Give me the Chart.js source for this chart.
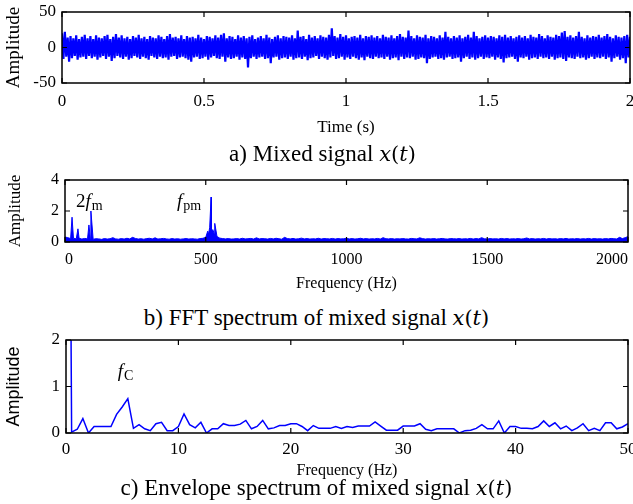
<!DOCTYPE html>
<html>
<head>
<meta charset="utf-8">
<script src="https://cdn.jsdelivr.net/npm/chart.js@4.4.0/dist/chart.umd.min.js"></script>
<style>
  body{margin:0;background:#fff;width:633px;height:504px;position:relative;overflow:hidden;font-family:"Liberation Serif",serif;}
  .box{position:absolute;left:0;width:633px;}
  .cap{position:absolute;left:0;width:633px;text-align:center;font-size:23px;line-height:24px;color:#000;z-index:2;}
  .cap i{font-family:"DejaVu Serif",serif;font-style:italic;font-size:21px;}
  .cap span{font-family:"DejaVu Serif",serif;font-size:21px;}
</style>
</head>
<body>
<div class="box" style="top:0;height:140px"><canvas id="chartA"></canvas></div>
<div class="cap" style="top:142px;padding-left:6px">a) Mixed signal <i>x</i><span>(</span><i>t</i><span>)</span></div>
<div class="box" style="top:165px;height:130px"><canvas id="chartB"></canvas></div>
<div class="cap" style="top:306px">b) FFT spectrum of mixed signal <i>x</i><span>(</span><i>t</i><span>)</span></div>
<div class="box" style="top:330px;height:150px"><canvas id="chartC"></canvas></div>
<div class="cap" style="top:476px">c) Envelope spectrum of mixed signal <i>x</i><span>(</span><i>t</i><span>)</span></div>
<script>
// a) mixed signal, upper / lower envelope every 0.01 s
const timeTicks = [0, 0.5, 1, 1.5, 2]
const ampTicksA = [-50, 0, 50]
const sigTop = [
  20,22,14,16,13,17,12,15,18,13, 16,12,17,14,13,16,18,12,15,19,
  14,17,13,15,12,16,14,18,13,15, 12,16,14,13,17,15,12,16,19,14,
  15,13,17,12,16,14,15,13,18,14, 12,16,15,13,17,14,18,20,13,16,
  15,12,17,14,16,13,15,17,12,14, 16,13,18,14,12,15,17,13,16,15,
  14,17,13,24,15,16,12,18,14,16, 13,17,15,14,18,27,16,14,19,15,
  17,13,15,16,14,18,13,16,15,17, 14,16,13,18,15,14,17,13,16,19,
  15,14,24,16,13,17,15,14,18,13, 16,15,13,17,14,22,15,13,16,14,
  17,13,15,18,14,22,16,13,15,17, 14,16,15,13,17,15,18,14,16,13,
  15,17,14,16,13,18,15,14,19,16, 13,17,15,14,18,16,21,23,15,17,
  14,16,22,15,13,17,14,16,15,18, 14,16,19,15,13,17,15,14,16,18,
  15
]
const sigBottom = [
  -16,-13,-20,-15,-12,-17,-14,-13,-16,-12, -15,-13,-17,-14,-12,-16,-13,-19,-15,-12,
  -14,-16,-13,-17,-15,-12,-14,-16,-13,-15, -17,-12,-14,-16,-13,-15,-14,-17,-13,-12,
  -16,-14,-13,-15,-17,-20,-14,-13,-16,-15, -13,-17,-14,-12,-15,-16,-13,-20,-14,-16,
  -15,-13,-17,-14,-16,-28,-15,-13,-16,-14, -13,-16,-15,-22,-14,-13,-17,-15,-14,-16,
  -13,-17,-15,-14,-16,-13,-18,-15,-14,-12, -16,-13,-15,-17,-14,-12,-16,-15,-13,-17,
  -14,-16,-13,-15,-17,-14,-18,-13,-15,-16, -13,-15,-14,-16,-13,-17,-15,-14,-18,-13,
  -16,-14,-15,-13,-17,-16,-14,-15,-22,-16, -14,-13,-16,-15,-17,-14,-13,-16,-15,-14,
  -20,-15,-13,-16,-14,-17,-15,-13,-16,-14, -15,-13,-17,-14,-16,-21,-15,-14,-13,-16,
  -20,-14,-15,-13,-17,-15,-14,-16,-13,-15, -14,-16,-13,-17,-15,-14,-16,-19,-14,-15,
  -16,-13,-15,-14,-17,-15,-13,-16,-14,-15, -13,-16,-14,-20,-15,-13,-17,-15,-22,-14,
  -16
]

// b) FFT spectrum: noise floor every 10 Hz + peaks
const fftTicks = [0, 500, 1000, 1500, 2000]
const fftAmpTicks = [0, 2, 4]
const fftFloor = [
  0.32,0.28,0.22,0.25,0.2,0.24,0.19,0.23,0.2,0.22,0.18,0.21,0.2,0.17,0.22,0.19,0.21,0.28,0.2,0.18,
  0.22,0.19,0.24,0.2,0.3,0.23,0.19,0.21,0.18,0.22,0.24,0.2,0.27,0.19,0.21,0.23,0.2,0.18,0.22,0.19,
  0.21,0.18,0.2,0.22,0.19,0.21,0.2,0.18,0.22,0.24,0.3,0.5,0.6,0.55,0.35,0.25,0.22,0.2,0.22,0.19,
  0.2,0.22,0.19,0.24,0.2,0.21,0.23,0.19,0.27,0.2,0.22,0.21,0.19,0.23,0.2,0.24,0.21,0.18,0.3,0.22,
  0.2,0.23,0.19,0.21,0.25,0.2,0.22,0.19,0.21,0.2,0.24,0.19,0.22,0.21,0.2,0.23,0.19,0.22,0.2,0.21,
  0.23,0.2,0.22,0.19,0.21,0.24,0.2,0.22,0.19,0.21,0.2,0.23,0.19,0.28,0.21,0.2,0.22,0.19,0.21,0.2,
  0.22,0.2,0.19,0.23,0.21,0.2,0.27,0.22,0.19,0.21,0.2,0.22,0.19,0.21,0.23,0.2,0.19,0.22,0.21,0.2,
  0.22,0.19,0.21,0.2,0.23,0.19,0.22,0.2,0.28,0.21,0.19,0.22,0.2,0.21,0.19,0.23,0.2,0.22,0.19,0.21,
  0.2,0.22,0.19,0.21,0.26,0.2,0.22,0.19,0.21,0.2,0.23,0.19,0.22,0.2,0.21,0.19,0.22,0.2,0.23,0.19,
  0.21,0.2,0.22,0.19,0.21,0.2,0.23,0.19,0.22,0.2,0.21,0.19,0.22,0.2,0.23,0.21,0.2,0.3,0.22,0.28,
  0.35
]
const peakFreq = [25, 46, 85, 92, 507, 514, 519, 525, 532]
const peakAmp  = [1.6, 0.85, 1.1, 2.0, 0.7, 0.95, 2.9, 0.8, 1.2]

// c) envelope spectrum, 0.5 Hz bins from 0 to 50 Hz
const envTicks = [0, 10, 20, 30, 40, 50]
const envAmpTicks = [0, 1, 2]
const envAmp = [
  20,0.02,0.08,0.31,0.0,0.14,0.14,0.14,0.14,0.4,
  0.56,0.74,0.1,0.18,0.09,0.05,0.2,0.23,0.05,0.05,
  0.14,0.41,0.18,0.11,0.23,0.0,0.09,0.09,0.2,0.16,
  0.16,0.19,0.27,0.09,0.14,0.27,0.09,0.11,0.16,0.16,
  0.2,0.2,0.14,0.05,0.16,0.1,0.1,0.1,0.14,0.1,
  0.14,0.12,0.15,0.15,0.15,0.24,0.15,0.06,0.06,0.06,
  0.15,0.15,0.15,0.2,0.08,0.05,0.09,0.09,0.09,0.09,
  0.0,0.05,0.06,0.1,0.18,0.09,0.09,0.26,0.0,0.14,
  0.14,0.1,0.1,0.09,0.14,0.26,0.14,0.22,0.09,0.15,
  0.05,0.11,0.2,0.05,0.1,0.05,0.22,0.22,0.09,0.13,
  0.2
]

const BLUE = '#0000ff'
const SERIF = '"Liberation Serif", "Times New Roman", serif'

// MATLAB-like box with ticks pointing inside
const matlabBox = {
  id: 'matlabBox',
  afterDraw(chart) {
    const {ctx, chartArea: a, scales: {x, y}} = chart
    ctx.save()
    ctx.strokeStyle = '#000'
    ctx.lineWidth = 1.5
    ctx.strokeRect(a.left, a.top, a.right - a.left, a.bottom - a.top)
    ctx.lineWidth = 1.2
    const L = 5
    ctx.beginPath()
    x.ticks.forEach(t => {
      const px = x.getPixelForValue(t.value)
      ctx.moveTo(px, a.bottom); ctx.lineTo(px, a.bottom - L)
      ctx.moveTo(px, a.top); ctx.lineTo(px, a.top + L)
    })
    y.ticks.forEach(t => {
      const py = y.getPixelForValue(t.value)
      ctx.moveTo(a.left, py); ctx.lineTo(a.left + L, py)
      ctx.moveTo(a.right, py); ctx.lineTo(a.right - L, py)
    })
    ctx.stroke()
    ctx.restore()
  }
}

// text labels like 2f_m placed in data coordinates
const notes = {
  id: 'notes',
  afterDatasetsDraw(chart, args, opts) {
    const {ctx, scales: {x, y}} = chart
    ctx.save()
    ctx.fillStyle = '#000'
    ctx.textBaseline = 'alphabetic'
    ;(opts.items || []).forEach(n => {
      let px = x.getPixelForValue(n.x)
      const py = y.getPixelForValue(n.y)
      n.parts.forEach(p => {
        ctx.font = p.font
        ctx.fillText(p.t, px, py + (p.dy || 0))
        px += ctx.measureText(p.t).width + (p.gap || 0)
      })
    })
    ctx.restore()
  }
}

let makeChart = (id, datasets, o) => {
  return new Chart(document.getElementById(id), {
    type: 'line',
    data: {datasets},
    options: {
      responsive: true,
      maintainAspectRatio: false,
      animation: false,
      events: [],
      layout: {padding: {top: o.padTop, right: o.padRight, left: 0, bottom: 0}},
      plugins: {legend: {display: false}, tooltip: {enabled: false}, notes: {items: o.notes || []}},
      elements: {point: {radius: 0}, line: {tension: 0}},
      scales: {
        x: {
          type: 'linear', min: o.xTicks[0], max: o.xTicks[o.xTicks.length - 1],
          grid: {display: false, drawTicks: false}, border: {display: false},
          afterBuildTicks: s => { s.ticks = o.xTicks.map(v => ({value: v})) },
          afterFit: s => { s.height = o.xHeight; s.paddingLeft = 0; s.paddingRight = 0 },
          ticks: {color: '#000', font: {family: SERIF, size: o.tickSize}, padding: o.xTickPad,
                  maxRotation: 0, autoSkip: false, align: o.xAlign || 'center', callback: v => String(v)},
          title: {display: true, text: o.xTitle, color: '#000', font: {family: SERIF, size: o.xTitleSize},
                  padding: {top: 0, bottom: o.xTitlePad}}
        },
        y: {
          min: o.yTicks[0], max: o.yTicks[o.yTicks.length - 1],
          grid: {display: false, drawTicks: false}, border: {display: false},
          afterBuildTicks: s => { s.ticks = o.yTicks.map(v => ({value: v})) },
          afterFit: s => { s.width = o.yWidth; s.paddingTop = 0; s.paddingBottom = 0 },
          ticks: {color: '#000', font: {family: SERIF, size: o.tickSize}, padding: o.yTickPad, callback: v => String(v)},
          title: {display: true, text: 'Amplitude', color: '#000',
                  font: {family: o.yTitleFamily || SERIF, size: o.yTitleSize}, padding: {top: o.yTitlePad, bottom: 0}}
        }
      }
    },
    plugins: [matlabBox, notes]
  })
}

// chart a: zigzag between the upper and lower envelope values
let sigPts = []
sigTop.forEach((v, i) => {
  sigPts.push({x: i * 0.01, y: v})
  if (i < sigBottom.length - 1) sigPts.push({x: i * 0.01 + 0.005, y: sigBottom[i]})
})
makeChart('chartA', [
  {data: sigPts, borderColor: BLUE, borderWidth: 2.2, fill: false}
], {padTop: 12, padRight: 3, xTicks: timeTicks, yTicks: ampTicksA, xHeight: 57, yWidth: 62,
    tickSize: 17, xTickPad: 8, xTitle: 'Time (s)', xTitleSize: 17, xTitlePad: 2, yTickPad: 6,
    yTitleSize: 19, yTitlePad: 3})

// chart b
let fftPts = fftFloor.map((v, i) => ({x: i * 10, y: v}))
peakFreq.forEach((f, i) => fftPts.push({x: f, y: peakAmp[i]}))
fftPts.sort((p, q) => p.x - q.x)
const sub = '14px ' + SERIF, it = 'italic 19px ' + SERIF
makeChart('chartB', [
  {data: fftPts, borderColor: BLUE, borderWidth: 1, backgroundColor: BLUE, fill: 'origin'}
], {padTop: 15, padRight: 5, xTicks: fftTicks, yTicks: fftAmpTicks, xHeight: 53, yWidth: 65,
    tickSize: 16, xTickPad: 8, xAlign: 'inner', xTitle: 'Frequency (Hz)', xTitleSize: 16, xTitlePad: 2, yTickPad: 6,
    yTitleSize: 17, yTitlePad: 5,
    notes: [
      {x: 39, y: 2.26, parts: [{t: '2', font: '19px ' + SERIF}, {t: 'f', font: it, gap: 1}, {t: 'm', font: sub, dy: 3}]},
      {x: 398, y: 2.26, parts: [{t: 'f', font: it, gap: 1}, {t: 'pm', font: sub, dy: 3}]}
    ]})

// chart c
makeChart('chartC', [
  {data: envAmp.map((v, i) => ({x: i * 0.5, y: v})), borderColor: BLUE, borderWidth: 1.5, fill: false}
], {padTop: 10, padRight: 5, xTicks: envTicks, yTicks: envAmpTicks, xHeight: 47, yWidth: 66,
    tickSize: 17, xTickPad: 6, xTitle: 'Frequency (Hz)', xTitleSize: 16, xTitlePad: 0, yTickPad: 6,
    yTitleFamily: '"Liberation Sans", Arial, sans-serif', yTitleSize: 18, yTitlePad: 3,
    notes: [
      {x: 4.6, y: 1.2, parts: [{t: 'f', font: it, gap: 1}, {t: 'C', font: sub, dy: 3}]}
    ]})
</script>
</body>
</html>
